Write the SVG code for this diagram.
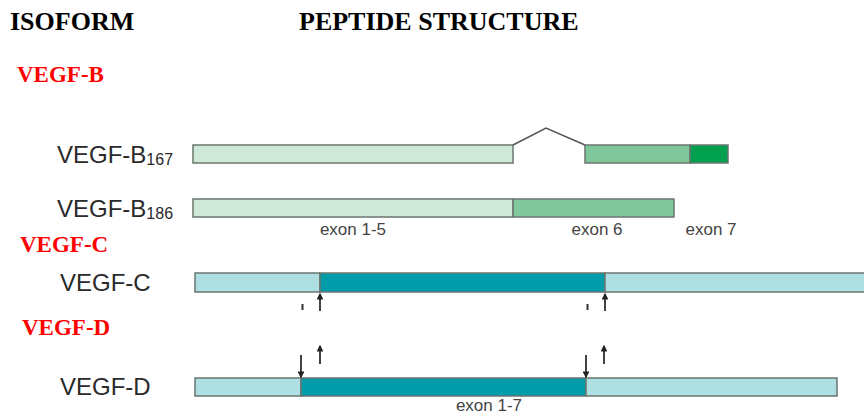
<svg xmlns="http://www.w3.org/2000/svg" width="864" height="416" viewBox="0 0 864 416">
  <style>
    .head { font-family: "Liberation Serif", serif; font-weight: bold; font-size: 26px; fill: #000; }
    .fam { font-family: "Liberation Serif", serif; font-weight: bold; font-size: 23px; fill: #ff0000; }
    .iso { font-family: "Liberation Sans", Arial, sans-serif; font-size: 24px; fill: #2a2a2a; }
    .sub { font-size: 16px; }
    .exon { font-family: "Liberation Sans", Arial, sans-serif; font-size: 17px; fill: #444; }
    .bar { stroke: #6b7570; stroke-width: 1.5; }
    .g1 { fill: #cfe9d8; }
    .g2 { fill: #80c89c; }
    .g3 { fill: #00a04e; }
    .c1 { fill: #aedfe3; }
    .c2 { fill: #009caa; }
    .arr { stroke: #222; stroke-width: 1.7; fill: none; }
  </style>
  <defs>
    <marker id="head" viewBox="0 0 10 10" refX="8" refY="5" markerWidth="4.2" markerHeight="4" orient="auto">
      <path d="M0,0 L10,5 L0,10 z" fill="#222"/>
    </marker>
  </defs>
  <rect width="864" height="416" fill="#fff"/>

  <text class="head" x="10" y="30">ISOFORM</text>
  <text class="head" x="299" y="30">PEPTIDE STRUCTURE</text>

  <text class="fam" x="17" y="82">VEGF-B</text>
  <text class="fam" x="20" y="252">VEGF-C</text>
  <text class="fam" x="22" y="335">VEGF-D</text>

  <g id="vegf-b167">
    <text class="iso" x="57" y="163">VEGF-B<tspan class="sub" dy="2">167</tspan></text>
    <rect class="bar g1" x="193" y="145" width="320" height="18"/>
    <rect class="bar g2" x="585" y="145" width="105" height="18"/>
    <rect class="bar g3" x="690" y="145" width="38" height="18"/>
  </g>

  <g id="vegf-b186">
    <text class="iso" x="57" y="217">VEGF-B<tspan class="sub" dy="2">186</tspan></text>
    <rect class="bar g1" x="193" y="199" width="320" height="18"/>
    <rect class="bar g2" x="513" y="199" width="161" height="18"/>
    <text class="exon" x="353" y="235" text-anchor="middle">exon 1-5</text>
    <text class="exon" x="597" y="235" text-anchor="middle">exon 6</text>
    <text class="exon" x="711" y="235" text-anchor="middle">exon 7</text>
  </g>

  <g id="vegf-c">
    <text class="iso" x="60" y="291">VEGF-C</text>
    <rect class="bar c1" x="195" y="273" width="125" height="19"/>
    <rect class="bar c2" x="320" y="273" width="285" height="19"/>
    <rect class="bar c1" x="605" y="273" width="262" height="19"/>
  </g>

  <g id="vegf-d">
    <text class="iso" x="60" y="395">VEGF-D</text>
    <rect class="bar c1" x="195" y="378" width="106" height="18"/>
    <rect class="bar c2" x="301" y="378" width="285" height="18"/>
    <rect class="bar c1" x="586" y="378" width="251" height="18"/>
    <text class="exon" x="489" y="411" text-anchor="middle">exon 1-7</text>
  </g>

  <g id="connectors">
    <!-- splice junction joining exon 1-5 to exon 7 -->
    <polyline points="513,145 546,128 585,145" fill="none" stroke="#555" stroke-width="1.5"/>
    <!-- VEGF-C cleavage sites -->
    <line class="arr" x1="320" y1="311" x2="320" y2="294" marker-end="url(#head)"/>
    <line class="arr" x1="605" y1="311" x2="605" y2="294" marker-end="url(#head)"/>
    <line x1="302.5" y1="304" x2="302.5" y2="310" stroke="#333" stroke-width="2"/>
    <line x1="587.5" y1="304" x2="587.5" y2="310" stroke="#333" stroke-width="2"/>
    <!-- VEGF-D cleavage sites -->
    <line class="arr" x1="301" y1="355" x2="301" y2="377" marker-end="url(#head)"/>
    <line class="arr" x1="586" y1="355" x2="586" y2="377" marker-end="url(#head)"/>
    <line class="arr" x1="320" y1="364" x2="320" y2="346" marker-end="url(#head)"/>
    <line class="arr" x1="604" y1="364" x2="604" y2="346" marker-end="url(#head)"/>
  </g>
</svg>
